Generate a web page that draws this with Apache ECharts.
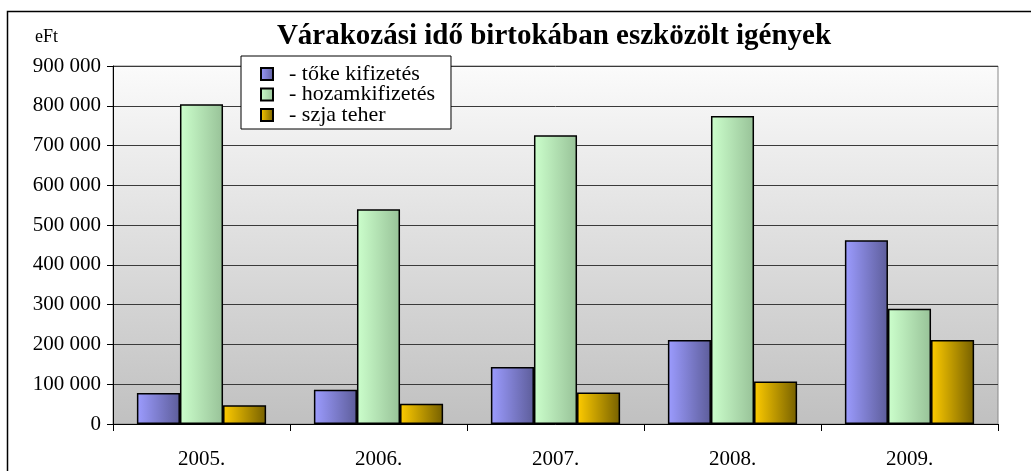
<!DOCTYPE html>
<html><head><meta charset="utf-8">
<script src="https://cdn.jsdelivr.net/npm/echarts@6/dist/echarts.min.js"></script>
<style>html,body{margin:0;padding:0;background:#fff}#c{width:1031px;height:471px}</style>
</head><body><div id="c"></div>
<script>
const categories = ['2005.', '2006.', '2007.', '2008.', '2009.'];
const seriesNames = ['- tőke kifizetés', '- hozamkifizetés', '- szja teher'];
const tokeKifizetes = [78000, 86000, 143000, 211000, 462000];
const hozamkifizetes = [804000, 540000, 726000, 774000, 290000];
const szjaTeher = [47000, 51000, 79000, 107000, 211000];
const yTicks = [0, 100000, 200000, 300000, 400000, 500000, 600000, 700000, 800000, 900000];

const serif = '"Liberation Serif", "DejaVu Serif", serif';
function grad(a, b) {
  return new echarts.graphic.LinearGradient(0, 0, 1, 0, [{offset: 0, color: a}, {offset: 1, color: b}]);
}
function fmt(v) { return String(v).replace(/\B(?=(\d{3})+(?!\d))/g, ' '); }

const chart = echarts.init(document.getElementById('c'), null, {renderer: 'canvas'});
const barStyle = (a, b) => ({color: grad(a, b), borderColor: '#000', borderWidth: 1.5});
chart.setOption({
  animation: false,
  title: {
    text: 'Várakozási idő birtokában eszközölt igények',
    left: 549, top: 17, textAlign: 'center',
    textStyle: {fontFamily: serif, fontWeight: 'bold', fontSize: 29, color: '#000'}
  },
  graphic: [
    {type: 'rect', shape: {x: 7.5, y: 11.5, width: 1100, height: 600}, style: {fill: 'none', stroke: '#000', lineWidth: 1.5}, z: -10},
    {type: 'text', left: 35, top: 28, style: {text: 'eFt', font: '18px ' + serif, fill: '#000'}}
  ],
  legend: {
    left: 241, top: 56, orient: 'vertical',
    data: seriesNames,
    backgroundColor: '#fff', borderColor: '#000', borderWidth: 1,
    padding: [7, 16, 3, 19], itemGap: -1.5,
    icon: 'rect', itemWidth: 12, itemHeight: 12,
    textStyle: {fontFamily: serif, fontSize: 22, color: '#000', padding: [0, 0, 0, 11]},
    z: 10
  },
  grid: {
    left: 113, right: 33, top: 66, bottom: 47, show: true,
    borderColor: '#888', borderWidth: 1,
    backgroundColor: new echarts.graphic.LinearGradient(0, 0, 0, 1, [{offset: 0, color: '#fbfbfb'}, {offset: 1, color: '#c0c0c0'}])
  },
  xAxis: {
    type: 'category', data: categories,
    axisLine: {lineStyle: {color: '#000', width: 1}},
    axisTick: {show: true, length: 7, lineStyle: {color: '#000'}},
    axisLabel: {fontFamily: serif, fontSize: 21, color: '#000', margin: 25}
  },
  yAxis: {
    type: 'value', min: yTicks[0], max: yTicks[yTicks.length - 1], interval: 100000,
    axisLine: {show: true, lineStyle: {color: '#000', width: 1}},
    axisTick: {show: true, length: 6, lineStyle: {color: '#000'}},
    splitLine: {lineStyle: {color: '#3a3a3a', width: 1}},
    axisLabel: {fontFamily: serif, fontSize: 21, color: '#000', margin: 12, formatter: fmt}
  },
  series: [
    {name: seriesNames[0], type: 'bar', data: tokeKifizetes, barGap: '0%', barCategoryGap: '27%',
     itemStyle: barStyle('#9c9cff', '#5d5d9a')},
    {name: seriesNames[1], type: 'bar', data: hozamkifizetes,
     itemStyle: barStyle('#ccffcc', '#98c298')},
    {name: seriesNames[2], type: 'bar', data: szjaTeher,
     itemStyle: barStyle('#ffcc00', '#766000')}
  ]
});
</script></body></html>
